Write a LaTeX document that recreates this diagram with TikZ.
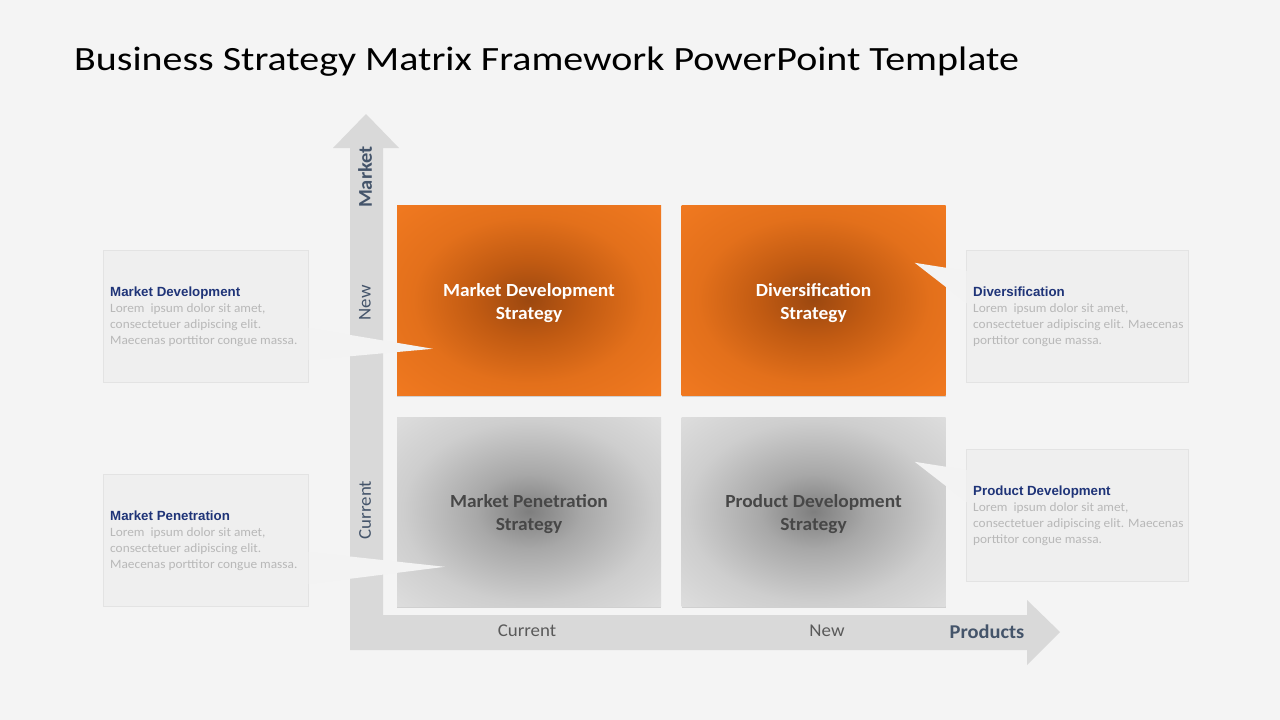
\documentclass[tikz,border=0pt]{standalone}
\usepackage{fontspec}
\setmainfont{Carlito}[FakeStretch=1.05]
\newfontfamily\titlefont{Carlito}[FakeStretch=1.175]
\newfontfamily\arialf{Liberation Sans}
\usetikzlibrary{calc,shadows}
\definecolor{bgc}{HTML}{F4F4F4}
\definecolor{axisc}{HTML}{D9D9D9}
\definecolor{tbox}{HTML}{EFEFEF}
\definecolor{tboxline}{HTML}{E3E3E3}
\definecolor{callc}{HTML}{F3F3F3}
\definecolor{navy}{HTML}{1F3478}
\definecolor{loremc}{HTML}{B8B8B8}
\definecolor{slate}{HTML}{44546A}
\definecolor{axtxt}{HTML}{5A5A5A}
\definecolor{or0}{HTML}{9C4810}
\definecolor{or1}{HTML}{C05A12}
\definecolor{or2}{HTML}{E3701B}
\definecolor{or3}{HTML}{F57C22}
\definecolor{gr0}{HTML}{7E7E7E}
\definecolor{gr1}{HTML}{A8A8A8}
\definecolor{gr2}{HTML}{CECECE}
\definecolor{gr3}{HTML}{E6E6E6}
\pgfdeclareradialshading{orrad}{\pgfpoint{0bp}{0bp}}{color(0bp)=(or0); color(10bp)=(or1); color(22bp)=(or2); color(40bp)=(or3); color(80bp)=(or3)}
\pgfdeclareradialshading{grrad}{\pgfpoint{0bp}{0bp}}{color(0bp)=(gr0); color(10bp)=(gr1); color(24bp)=(gr2); color(42bp)=(gr3); color(80bp)=(gr3)}
\tikzset{
  orbox/.style={minimum width=264, minimum height=190, shading=orrad,
    drop shadow={shadow xshift=0pt, shadow yshift=-2pt, opacity=0.3}},
  grbox/.style={minimum width=264, minimum height=189, shading=grrad,
    drop shadow={shadow xshift=0pt, shadow yshift=-2pt, opacity=0.3}},
  ortext/.style={text=white, font=\fontsize{18.5}{23}\selectfont\bfseries, align=center},
  grtext/.style={text=black!72, font=\fontsize{18.5}{23}\selectfont\bfseries, align=center},
  txtbox/.style={fill=tbox, draw=tboxline, line width=0.6, minimum height=132, anchor=north west},
  txtcontent/.style={anchor=north west, align=left, inner sep=0, font=\fontsize{12.7}{16}\selectfont, text=loremc},
  callout/.style={fill=callc},
  vlabel/.style={rotate=90, text=slate, font=\fontsize{18}{20}\selectfont},
  hlabel/.style={text=axtxt, font=\fontsize{18}{20}\selectfont}
}
\newcommand{\hd}[1]{{\arialf\fontsize{13.3}{16}\selectfont\bfseries\color{navy}#1}}
\begin{document}
\begin{tikzpicture}[x=1pt,y=-1pt]
\fill[bgc] (0,0) rectangle (1280,720);
\useasboundingbox (0,0) rectangle (1280,720);
% title
\node[anchor=west, inner sep=0, font=\titlefont\fontsize{34}{40}\selectfont] (title) at (74,62) {Business Strategy Matrix Framework PowerPoint Template};
% axes
\fill[axisc] (333,148) -- (366,114) -- (399,148) -- (383,148) -- (383,615) -- (1027,615) -- (1027,600)
  -- (1060,632) -- (1027,665) -- (1027,650) -- (350,650) -- (350,148) -- cycle;
\node[vlabel, font=\fontsize{19.5}{20}\selectfont\bfseries] (lMarket) at (365,177) {Market};
\node[vlabel] (lNewV) at (365,303) {New};
\node[vlabel] (lCurV) at (365,510) {Current};
\node[hlabel] (lCurH) at (527,631) {Current};
\node[hlabel] (lNewH) at (827,631) {New};
\node[text=slate, font=\fontsize{19.5}{20}\selectfont\bfseries] (lProd) at (987,632) {Products};
% strategy boxes
\node[orbox] (sMD) at (529,300) {};
\node[orbox] (sDV) at (813.5,300) {};
\node[grbox] (sMP) at (529,511.5) {};
\node[grbox] (sPD) at (813.5,511.5) {};
\node[ortext] (xMD) at ($(sMD.center)+(0,3.5)$) {Market Development\\Strategy};
\node[ortext] (xDV) at ($(sDV.center)+(0,3.5)$) {Diversification\\Strategy};
\node[grtext] (xMP) at ($(sMP.center)+(0,3)$) {Market Penetration\\Strategy};
\node[grtext] (xPD) at ($(sPD.center)+(0,3)$) {Product Development\\Strategy};
% text boxes
\node[txtbox, minimum width=205] (tMD) at (103,250) {};
\node[txtbox, minimum width=205] (tMP) at (103,474) {};
\node[txtbox, minimum width=222] (tDV) at (966,250) {};
\node[txtbox, minimum width=222] (tPD) at (966,449) {};
% callouts
\fill[callout] ($(tMD.north east)+(0,78)$) -- ($(sMD.north west)+(36,144)$) -- ($(tMD.north east)+(0,110)$) -- cycle;
\fill[callout] ($(tMP.north east)+(0,78)$) -- ($(sMP.north west)+(48,150)$) -- ($(tMP.north east)+(0,110)$) -- cycle;
\fill[callout] ($(tDV.north west)+(0.5,21)$) -- ($(sDV.north east)+(-31,58)$) -- ($(tDV.north west)+(0.5,53)$) -- cycle;
\fill[callout] ($(tPD.north west)+(0.5,21)$) -- ($(sPD.north east)+(-31,45)$) -- ($(tPD.north west)+(0.5,53)$) -- cycle;
% text contents
\node[txtcontent] (cMD) at (110,287) {\hd{Market Development}\\Lorem\ \ ipsum dolor sit amet,\\consectetuer\ adipiscing elit.\\Maecenas porttitor congue\ massa.};
\node[txtcontent] (cMP) at (110,511) {\hd{Market Penetration}\\Lorem\ \ ipsum dolor sit amet,\\consectetuer\ adipiscing elit.\\Maecenas porttitor congue\ massa.};
\node[txtcontent] (cDV) at (973,287) {\hd{Diversification}\\Lorem\ \ ipsum dolor sit amet,\\consectetuer\ adipiscing elit. Maecenas\\porttitor congue massa.};
\node[txtcontent] (cPD) at (973,486) {\hd{Product Development}\\Lorem\ \ ipsum dolor sit amet,\\consectetuer\ adipiscing elit. Maecenas\\porttitor congue massa.};
\end{tikzpicture}
\end{document}
